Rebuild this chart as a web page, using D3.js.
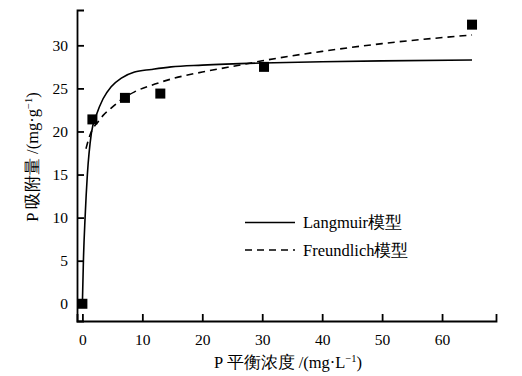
<!DOCTYPE html>
<html>
<head>
<meta charset="utf-8">
<script src="https://cdn.jsdelivr.net/npm/d3@7"></script>
<style>
  body { margin: 0; background: #fff; }
  text { font-family: "Liberation Serif", "DejaVu Serif", serif; }
</style>
</head>
<body>
<div id="chart"></div>
<script>
// 实测数据点 (C, q)
const obsC = [0, 1.67, 7.1, 13.0, 30.3, 65.0];
const obsQ = [0, 21.4, 23.9, 24.4, 27.5, 32.4];

// Langmuir 拟合曲线
const langC = [0, 0.17, 0.45, 0.83, 1.5, 2.33, 3.45, 4.8, 6.5, 8.7, 11.5, 14.8, 20, 30, 40, 50, 65];
const langQ = [0, 5, 10, 15, 19.8, 21.9, 23.8, 25.2, 26.2, 26.9, 27.2, 27.5, 27.7, 27.95, 28.1, 28.2, 28.3];

// Freundlich 拟合曲线
const freuC = [0.6, 1, 1.5, 2, 2.6, 3.5, 4.8, 6.5, 8.7, 12.1, 15.4, 20, 27, 30, 40, 50, 65];
const freuQ = [18.0, 19.0, 20.0, 20.6, 21.1, 21.9, 22.7, 23.7, 24.6, 25.5, 26.2, 26.9, 27.8, 28.2, 29.3, 30.2, 31.2];

const xTicks = [0, 10, 20, 30, 40, 50, 60];
const yTicks = [0, 5, 10, 15, 20, 25, 30];
const legendNames = ['Langmuir模型', 'Freundlich模型'];

const width = 522, height = 376;
const margin = { top: 10, right: 26, bottom: 55, left: 77 };
const serif = '"Liberation Serif", "DejaVu Serif", serif';

const svg = d3.select('#chart').append('svg')
    .attr('width', width)
    .attr('height', height);

const x = d3.scaleLinear().domain([-0.9, 69]).range([margin.left, width - margin.right]);
const y = d3.scaleLinear().domain([-2, 34.1]).range([height - margin.bottom, margin.top]);

// 坐标轴，刻度朝内
const xAxis = svg.append('g')
    .attr('transform', `translate(0, ${height - margin.bottom})`)
    .call(d3.axisBottom(x).tickValues(xTicks).tickSize(-7).tickSizeOuter(-7).tickPadding(13));
const yAxis = svg.append('g')
    .attr('transform', `translate(${margin.left}, 0)`)
    .call(d3.axisLeft(y).tickValues(yTicks).tickSize(-7).tickSizeOuter(-7).tickPadding(9));

[xAxis, yAxis].forEach(a => {
    a.attr('font-family', serif).attr('font-size', null);
    a.selectAll('path, line').attr('stroke', '#000').attr('stroke-width', 1.8);
    a.selectAll('text').style('font-size', '15.5px').attr('fill', '#000');
});
xAxis.selectAll('text').attr('dy', '0.71em');

// 曲线
const line = d3.line()
    .x(d => x(d[0]))
    .y(d => y(d[1]))
    .curve(d3.curveMonotoneX);

svg.append('path')
    .attr('d', line(d3.zip(langC, langQ)))
    .attr('fill', 'none')
    .attr('stroke', '#000')
    .attr('stroke-width', 1.6);

svg.append('path')
    .attr('d', line(d3.zip(freuC, freuQ)))
    .attr('fill', 'none')
    .attr('stroke', '#000')
    .attr('stroke-width', 1.6)
    .attr('stroke-dasharray', '7 5');

// 方块点
const sq = 10;
svg.selectAll('.obs')
    .data(d3.zip(obsC, obsQ))
    .enter()
    .append('rect')
    .attr('class', 'obs')
    .attr('x', d => x(d[0]) - sq / 2)
    .attr('y', d => y(d[1]) - sq / 2)
    .attr('width', sq)
    .attr('height', sq)
    .attr('fill', '#000');

// 图例
const legend = svg.append('g');
legendNames.forEach((name, i) => {
    const ly = 222.5 + i * 27.5;
    legend.append('line')
        .attr('x1', 245).attr('x2', 295)
        .attr('y1', ly).attr('y2', ly)
        .attr('stroke', '#000')
        .attr('stroke-width', 1.6)
        .attr('stroke-dasharray', i === 1 ? '7 5' : null);
    legend.append('text')
        .attr('x', 303)
        .attr('y', ly + 5.5)
        .style('font-size', '16.5px')
        .text(name);
});

// 轴标题
const xTitle = svg.append('text')
    .attr('x', 288)
    .attr('y', 368)
    .attr('text-anchor', 'middle')
    .style('font-size', '16.5px');
xTitle.append('tspan').text('P 平衡浓度 /(mg·L');
xTitle.append('tspan').attr('dy', -6).style('font-size', '10.5px').text('−1');
xTitle.append('tspan').attr('dy', 6).text(')');

const yTitle = svg.append('text')
    .attr('transform', 'translate(38, 157) rotate(-90)')
    .attr('text-anchor', 'middle')
    .style('font-size', '16.5px');
yTitle.append('tspan').text('P 吸附量 /(mg·g');
yTitle.append('tspan').attr('dy', -6).style('font-size', '10.5px').text('−1');
yTitle.append('tspan').attr('dy', 6).text(')');
</script>
</body>
</html>
